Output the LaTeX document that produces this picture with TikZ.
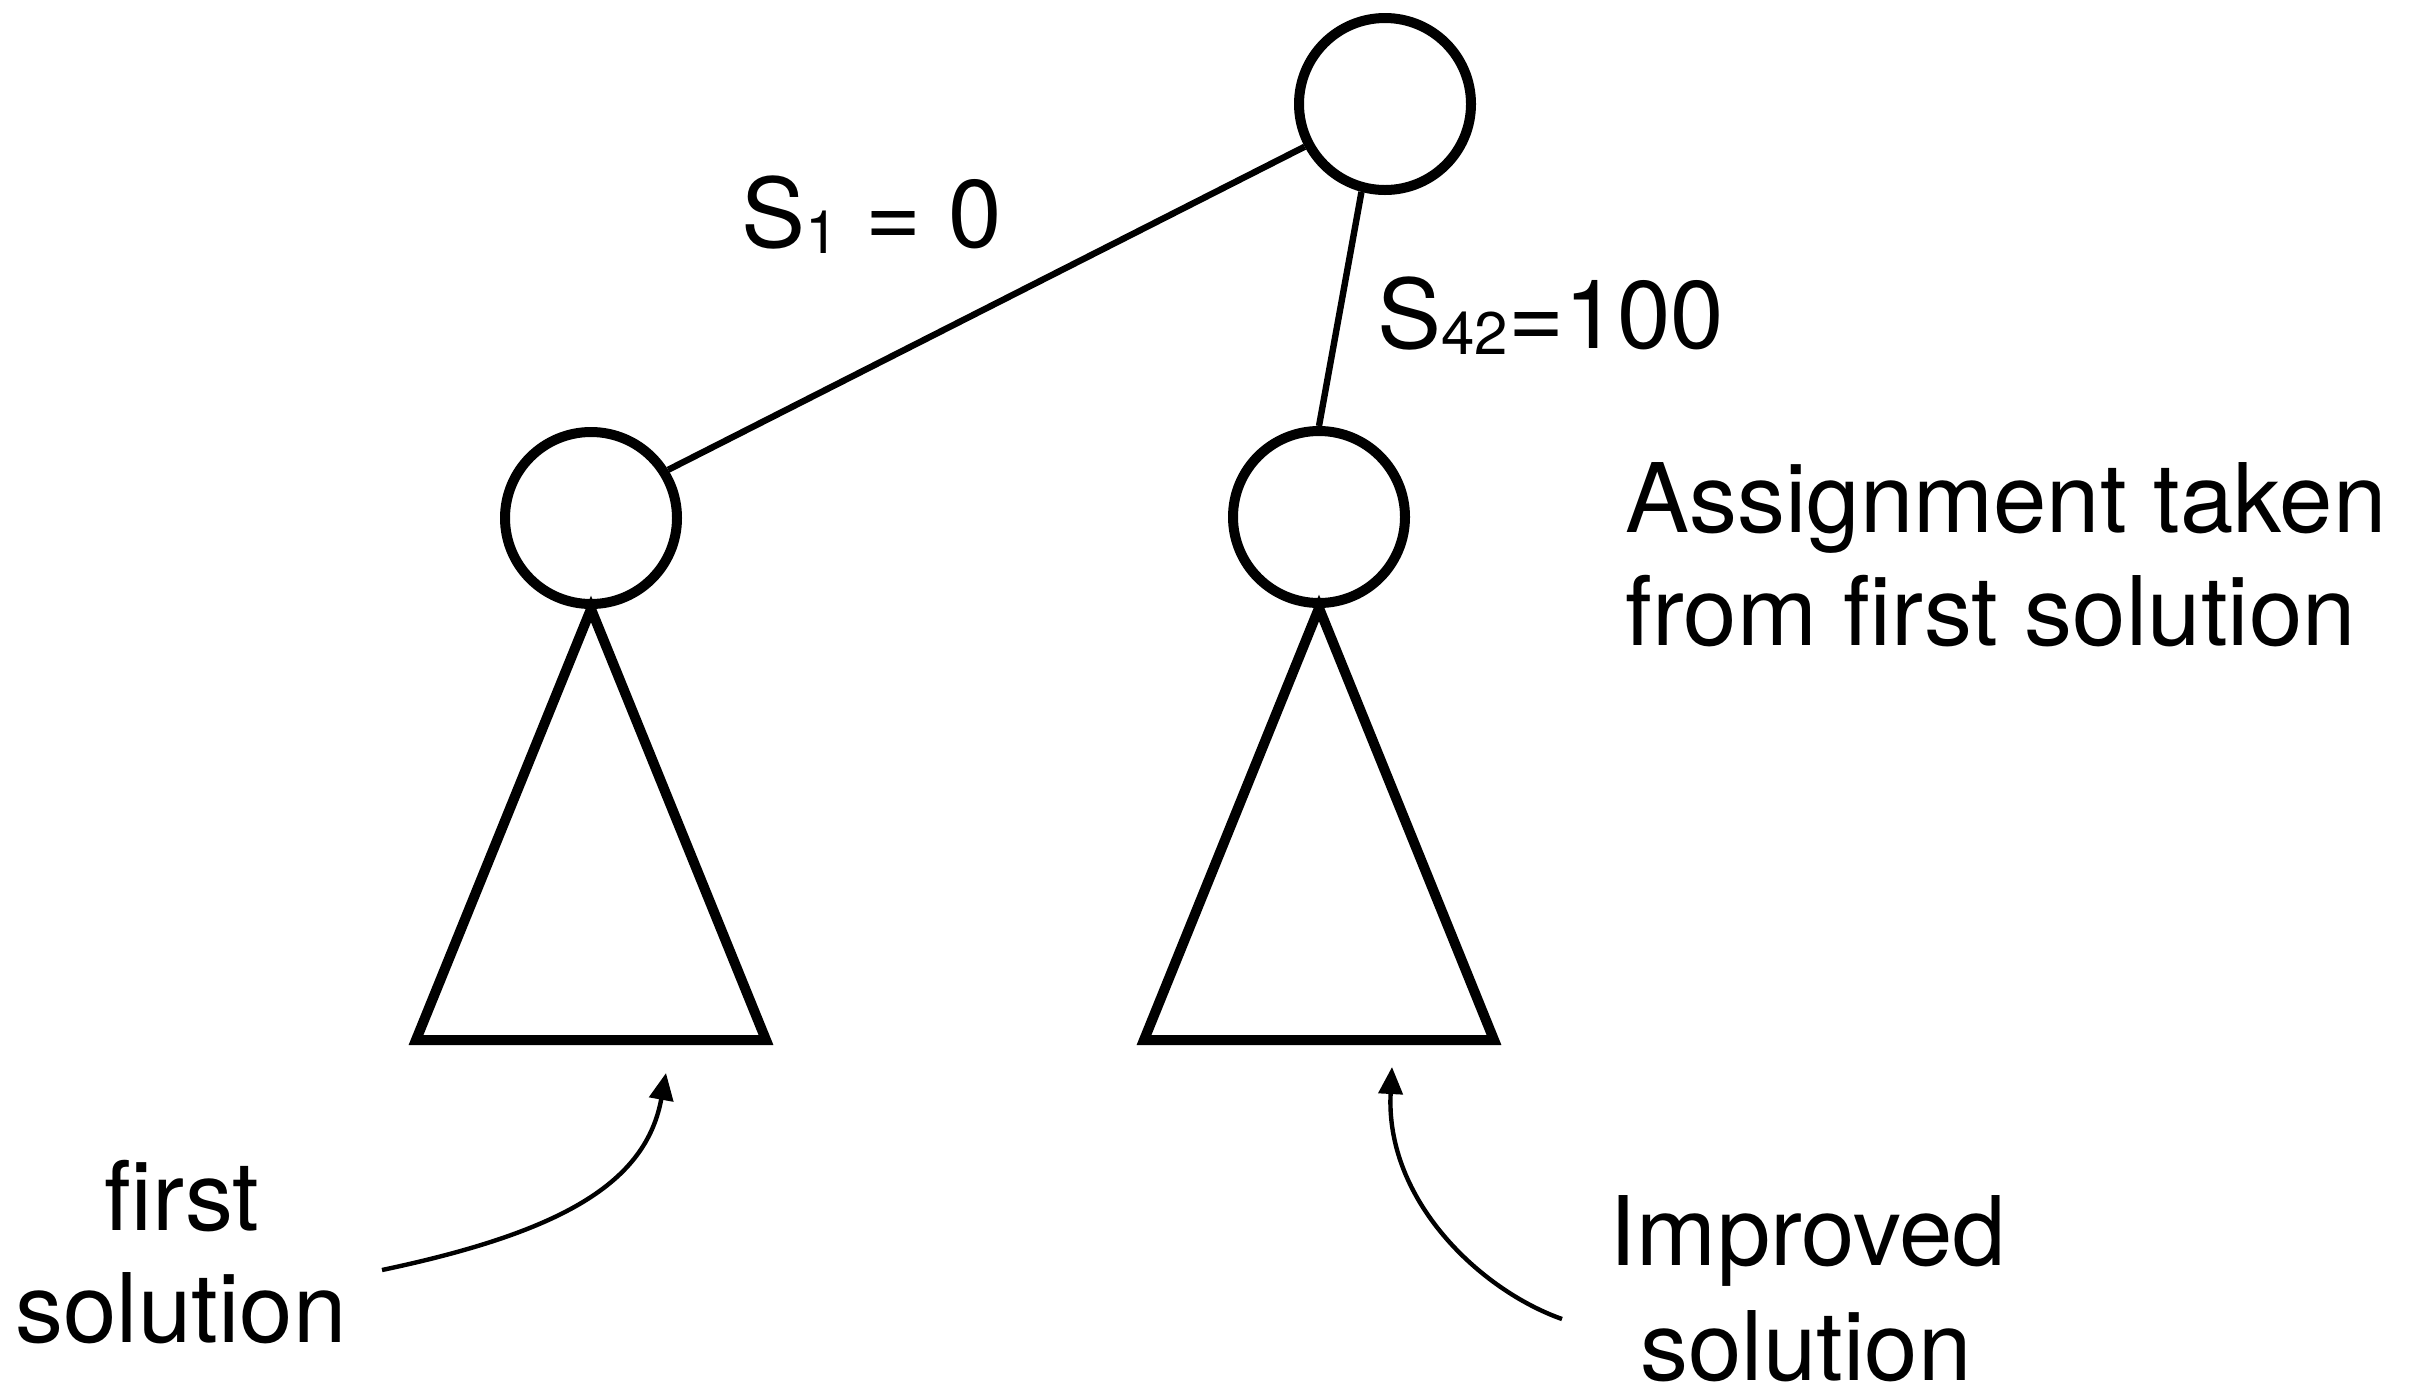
\documentclass[tikz,border=0pt]{standalone}
\usepackage{fontspec}
\setmainfont{TeX Gyre Heros}
\usetikzlibrary{arrows.meta}
\newcommand{\lbl}{\fontsize{48}{56}\selectfont}
\newcommand{\sub}[1]{\raisebox{-3pt}{\fontsize{30}{34}\selectfont #1}}
\begin{document}
\begin{tikzpicture}[x=0.5pt,y=-0.5pt,
  vertex/.style={circle,draw=black,line width=5pt,minimum size=86pt,inner sep=0pt,fill=white},
  edge/.style={line width=3.2pt},
  tri/.style={line width=5pt,line join=miter},
  txt/.style={inner sep=0pt,font=\lbl},
  pointer/.style={line width=2.2pt,-{Triangle[length=13.5pt,width=12pt]}}]
\useasboundingbox (0,0) rectangle (2419,1383);
\clip (0,0) rectangle (2419,1383);
% nodes
\node[vertex] (root) at (1385,104) {};
\node[vertex] (left) at (591,518) {};
\node[vertex] (right) at (1319,517) {};
% edges
\draw[edge] (root.208) -- (left.32);
\draw[edge] (root.255) -- (right.90);
% subtrees
\draw[tri] (left.south) -- (766,1040) -- (416,1040) -- cycle;
\draw[tri] (right.south) -- (1494,1040) -- (1144,1040) -- cycle;
% labels
\node[txt,anchor=base west] (s1) at (741,247) {S\sub{1} = 0};
\node[txt,anchor=base west] (s42) at (1377,348) {S\sub{42}=100};
\node[txt,anchor=base west] (asg1) at (1625,532) {Assignment taken};
\node[txt,anchor=base west] (asg2) at (1625,645) {from first solution};
\node[txt,anchor=base] (fs1) at (182,1230) {first};
\node[txt,anchor=base] (fs2) at (181,1342) {solution};
\node[txt,anchor=base] (im1) at (1808,1265) {Improved};
\node[txt,anchor=base] (im2) at (1806,1380) {solution};
% arrows
\coordinate (a1s) at (382,1270);
\coordinate (a1e) at (666,1073);
\coordinate (a2s) at (1562,1319);
\coordinate (a2e) at (1392,1067);
\draw[pointer] (a1s) .. controls (562,1232) and (646,1183) .. (a1e);
\draw[pointer] (a2s) .. controls (1480,1290) and (1385,1200) .. (a2e);
\end{tikzpicture}
\end{document}
